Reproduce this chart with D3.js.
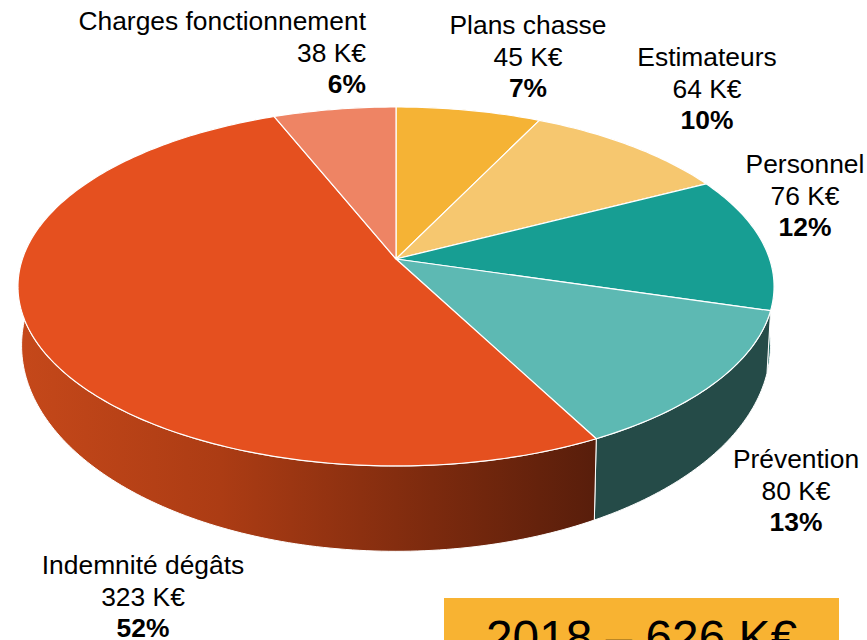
<!DOCTYPE html>
<html>
<head>
<meta charset="utf-8">
<style>
    html, body { margin: 0; padding: 0; background: #fff; overflow: hidden; }
    svg { display: block; }
    text { font-family: "Liberation Sans", Arial, sans-serif; fill: #000; }
</style>
<script src="https://cdn.jsdelivr.net/npm/d3@7"></script>
</head>
<body>
<div id="chart"></div>
<script>
var categories = ["Plans chasse", "Estimateurs", "Personnel", "Prévention", "Indemnité dégâts", "Charges fonctionnement"];
var amounts = [45, 64, 76, 80, 323, 38];
var boxYear = "2018";
var unit = " K€";

var colours = ["#f5b335", "#f6c76f", "#179e93", "#5db9b3", "#e5501f", "#ee8464"];
var wallColours = ["#8a6a20", "#8a7040", "#0f5f58", "#254b48", "url(#wallGradient)", "#8a4a38"];

var width = 867,
    height = 640;

// the pie is tilted in perspective, so the rim is not centred on the apex
var APEX_X = 396;
var APEX_Y = 259;
var SCALE_X = 373.6;
var SCALE_Y = 175.3;
var TILT = -0.153;
var WALL_SCALE_X = 370;
var WALL_SCALE_Y = 201;
var WALL_DROP = 55;
var FONT_SIZE = 26.4;
var LINE_HEIGHT = 31.5;

// first baseline and anchor of each label, same order as categories
var labelPlaces = [
    {x: 528, y: 34, anchor: "middle"},
    {x: 707, y: 66, anchor: "middle"},
    {x: 805, y: 173, anchor: "middle"},
    {x: 796, y: 468, anchor: "middle"},
    {x: 143, y: 574, anchor: "middle"},
    {x: 366, y: 30, anchor: "end"}
];

var svg = d3.select("#chart")
    .append("svg")
    .attr("width", width)
    .attr("height", height);

var total = d3.sum(amounts);
var percent = d3.format(".0%");

var slices = d3.pie().sort(null)(amounts);

var gradient = svg.append("defs")
    .append("linearGradient")
    .attr("id", "wallGradient")
    .attr("gradientUnits", "userSpaceOnUse")
    .attr("x1", 20).attr("x2", 592)
    .attr("y1", 0).attr("y2", 0);

gradient.append("stop").attr("offset", "0%").attr("stop-color", "#c5481a");
gradient.append("stop").attr("offset", "35%").attr("stop-color", "#ac3c14");
gradient.append("stop").attr("offset", "72%").attr("stop-color", "#7c2a0e");
gradient.append("stop").attr("offset", "100%").attr("stop-color", "#591e0b");

function project(angle, scaleX, scaleY, drop) {
    var u = Math.sin(angle);
    var v = -Math.cos(angle);
    var depth = 1 + TILT * v;
    return [
        APEX_X + scaleX * u / depth,
        APEX_Y + drop + scaleY * v / depth
    ];
}

function rim(d, scaleX, scaleY, drop) {
    var steps = Math.ceil((d.endAngle - d.startAngle) * 60);
    return d3.range(steps + 1).map(function (i) {
        return project(d.startAngle + (d.endAngle - d.startAngle) * i / steps, scaleX, scaleY, drop);
    });
}

var line = d3.line();

// walls first, the top hides whatever is at the back
svg.append("g")
    .selectAll("path")
    .data(slices)
    .enter().append("path")
    .attr("d", function (d) {
        var upper = rim(d, SCALE_X, SCALE_Y, 0);
        var lower = rim(d, WALL_SCALE_X, WALL_SCALE_Y, WALL_DROP);
        return line(upper.concat(lower.reverse())) + "Z";
    })
    .attr("fill", function (d, i) {
        return wallColours[i];
    })
    .attr("stroke", "#fff")
    .attr("stroke-width", 1);

svg.append("g")
    .selectAll("path")
    .data(slices)
    .enter().append("path")
    .attr("d", function (d) {
        return line([[APEX_X, APEX_Y]].concat(rim(d, SCALE_X, SCALE_Y, 0))) + "Z";
    })
    .attr("fill", function (d, i) {
        return colours[i];
    })
    .attr("stroke", "#fff")
    .attr("stroke-width", 1.2)
    .attr("stroke-linejoin", "round");

var labels = svg.append("g")
    .selectAll("text")
    .data(categories)
    .enter().append("text")
    .attr("font-size", FONT_SIZE)
    .attr("text-anchor", function (d, i) {
        return labelPlaces[i].anchor;
    });

labels.each(function (name, i) {
    var place = labelPlaces[i];
    var label = d3.select(this);
    label.append("tspan").attr("x", place.x).attr("y", place.y).text(name);
    label.append("tspan").attr("x", place.x).attr("y", place.y + LINE_HEIGHT).text(amounts[i] + unit);
    label.append("tspan").attr("x", place.x).attr("y", place.y + 2 * LINE_HEIGHT)
        .attr("font-weight", "bold")
        .text(percent(amounts[i] / total));
});

svg.append("rect")
    .attr("x", 444)
    .attr("y", 598)
    .attr("width", 395)
    .attr("height", 42)
    .attr("fill", "#f8b332");

svg.append("text")
    .attr("x", 641.5)
    .attr("y", 654)
    .attr("font-size", 47.8)
    .attr("text-anchor", "middle")
    .text(boxYear + " – " + total + unit);
</script>
</body>
</html>
